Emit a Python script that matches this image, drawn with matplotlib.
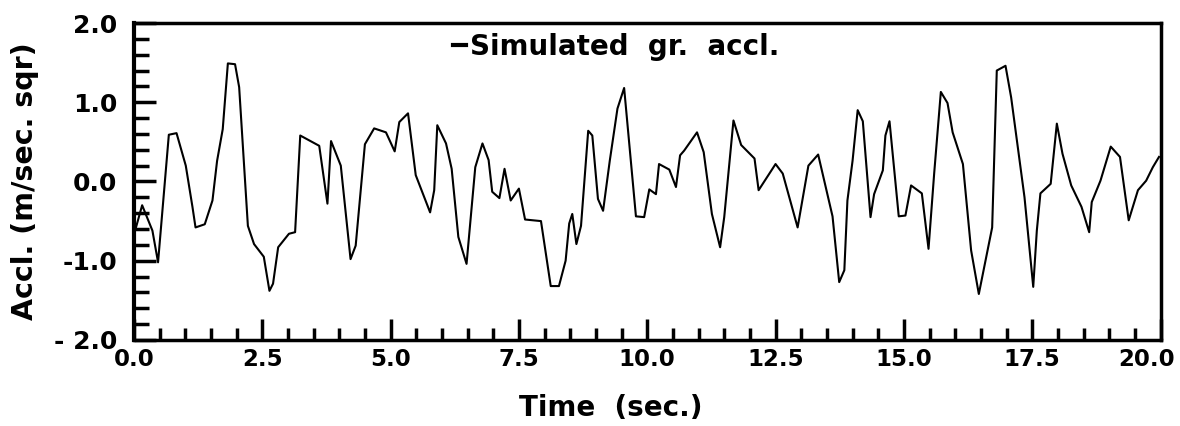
import numpy as np
import matplotlib
matplotlib.use("Agg")
import matplotlib.pyplot as plt
import matplotlib.transforms as mtrans
from matplotlib.ticker import MultipleLocator

plt.rcParams['font.family'] = ['DejaVu Sans']
plt.rcParams['axes.unicode_minus'] = False

# simulated ground acceleration
time_s = [0.04, 0.16, 0.36, 0.47, 0.68, 0.83, 1.01, 1.14, 1.20, 1.38,
          1.53, 1.62, 1.73, 1.83, 1.97, 2.05, 2.22, 2.34, 2.53, 2.64,
          2.71, 2.81, 3.02, 3.14, 3.24, 3.61, 3.77, 3.84, 4.03, 4.22,
          4.32, 4.50, 4.68, 4.91, 5.08, 5.17, 5.34, 5.49, 5.77, 5.85,
          5.91, 6.08, 6.19, 6.32, 6.48, 6.65, 6.79, 6.91, 6.98, 7.12,
          7.22, 7.34, 7.50, 7.62, 7.93, 8.12, 8.28, 8.41, 8.48, 8.54,
          8.62, 8.71, 8.85, 8.93, 9.04, 9.14, 9.27, 9.42, 9.55, 9.78,
          9.94, 10.04, 10.17, 10.23, 10.43, 10.56, 10.64, 10.72, 10.97, 11.10,
          11.26, 11.42, 11.50, 11.68, 11.83, 12.09, 12.17, 12.50, 12.64, 12.93,
          13.14, 13.33, 13.61, 13.74, 13.84, 13.90, 14.00, 14.10, 14.20, 14.35,
          14.42, 14.59, 14.64, 14.72, 14.90, 15.03, 15.14, 15.35, 15.48, 15.59,
          15.72, 15.85, 15.95, 16.15, 16.31, 16.46, 16.72, 16.81, 16.98, 17.09,
          17.35, 17.52, 17.59, 17.66, 17.86, 17.98, 18.09, 18.26, 18.46, 18.61,
          18.66, 18.83, 19.03, 19.21, 19.38, 19.56, 19.72, 19.85, 19.97]
accl = [-0.58, -0.30, -0.62, -1.02, 0.59, 0.61, 0.20, -0.32, -0.58, -0.54,
        -0.24, 0.26, 0.66, 1.49, 1.48, 1.19, -0.56, -0.79, -0.95, -1.38,
        -1.29, -0.83, -0.66, -0.64, 0.58, 0.45, -0.28, 0.51, 0.20, -0.98,
        -0.81, 0.47, 0.67, 0.62, 0.38, 0.75, 0.86, 0.08, -0.39, -0.11,
        0.71, 0.48, 0.16, -0.70, -1.04, 0.18, 0.48, 0.27, -0.13, -0.21,
        0.16, -0.24, -0.09, -0.48, -0.50, -1.32, -1.32, -1.00, -0.53, -0.41,
        -0.79, -0.56, 0.64, 0.58, -0.22, -0.37, 0.26, 0.92, 1.18, -0.44,
        -0.45, -0.10, -0.16, 0.22, 0.15, -0.07, 0.33, 0.39, 0.62, 0.37,
        -0.41, -0.83, -0.45, 0.77, 0.46, 0.29, -0.11, 0.22, 0.10, -0.58,
        0.20, 0.34, -0.44, -1.27, -1.12, -0.24, 0.26, 0.90, 0.76, -0.45,
        -0.16, 0.14, 0.58, 0.76, -0.44, -0.43, -0.05, -0.15, -0.85, 0.10,
        1.13, 0.99, 0.62, 0.22, -0.87, -1.42, -0.58, 1.40, 1.46, 1.06,
        -0.20, -1.33, -0.62, -0.15, -0.03, 0.73, 0.35, -0.05, -0.32, -0.64,
        -0.26, 0.01, 0.44, 0.31, -0.49, -0.11, 0.01, 0.18, 0.31]

xticks = [0, 2.5, 5, 7.5, 10, 12.5, 15, 17.5, 20]
xtick_labels = ["0.0", "2.5", "5.0", "7.5", "10.0", "12.5", "15.0", "17.5", "20.0"]
yticks = [-2, -1, 0, 1, 2]
ytick_labels = ["- 2.0", "-1.0", "0.0", "1.0", "2.0"]

fig = plt.figure(figsize=(11.8, 4.26), dpi=100)
ax = fig.add_axes([0.1135, 0.202, 0.870, 0.744])

ax.plot(time_s, accl, color="black", lw=1.5, label="Simulated  gr.  accl.")

ax.set_xlim(0, 20)
ax.set_ylim(-2, 2)
ax.set_xticks(xticks)
ax.set_xticklabels(xtick_labels, fontsize=16.5, fontweight="bold")
ax.set_yticks(yticks)
ax.set_yticklabels(ytick_labels, fontsize=18, fontweight="bold")
ax.xaxis.set_minor_locator(MultipleLocator(0.5))
ax.yaxis.set_minor_locator(MultipleLocator(0.2))

ax.tick_params(axis="x", which="major", direction="in", length=15, width=2.5, pad=6)
ax.tick_params(axis="x", which="minor", direction="in", length=9, width=2.5)
ax.tick_params(axis="y", which="major", direction="in", length=16, width=2.5, pad=12)
ax.tick_params(axis="y", which="minor", direction="in", length=11, width=2.5)

# last x label sits a little inside the figure edge
last = ax.get_xticklabels()[-1]
last.set_transform(last.get_transform() +
                   mtrans.ScaledTranslation(-14 / 100, 0, fig.dpi_scale_trans))

for side in ["left", "bottom", "right", "top"]:
    ax.spines[side].set_linewidth(2.5)
ax.spines["left"].set_linewidth(3)

ax.set_xlabel("Time  (sec.)", fontsize=20, fontweight="bold")
ax.xaxis.set_label_coords(0.464, -0.172)
ax.set_ylabel("Accl. (m/sec. sqr)", fontsize=20.5, fontweight="bold")
ax.yaxis.set_label_coords(-0.092, 0.5)

leg = ax.legend(loc="center", bbox_to_anchor=(0.47, 0.924), frameon=False,
                handlelength=0.45, handletextpad=0.15, borderpad=0,
                prop={"size": 20, "weight": "bold"})
leg.legend_handles[0].set_linewidth(3)

fig.savefig("out.png", dpi=100)
